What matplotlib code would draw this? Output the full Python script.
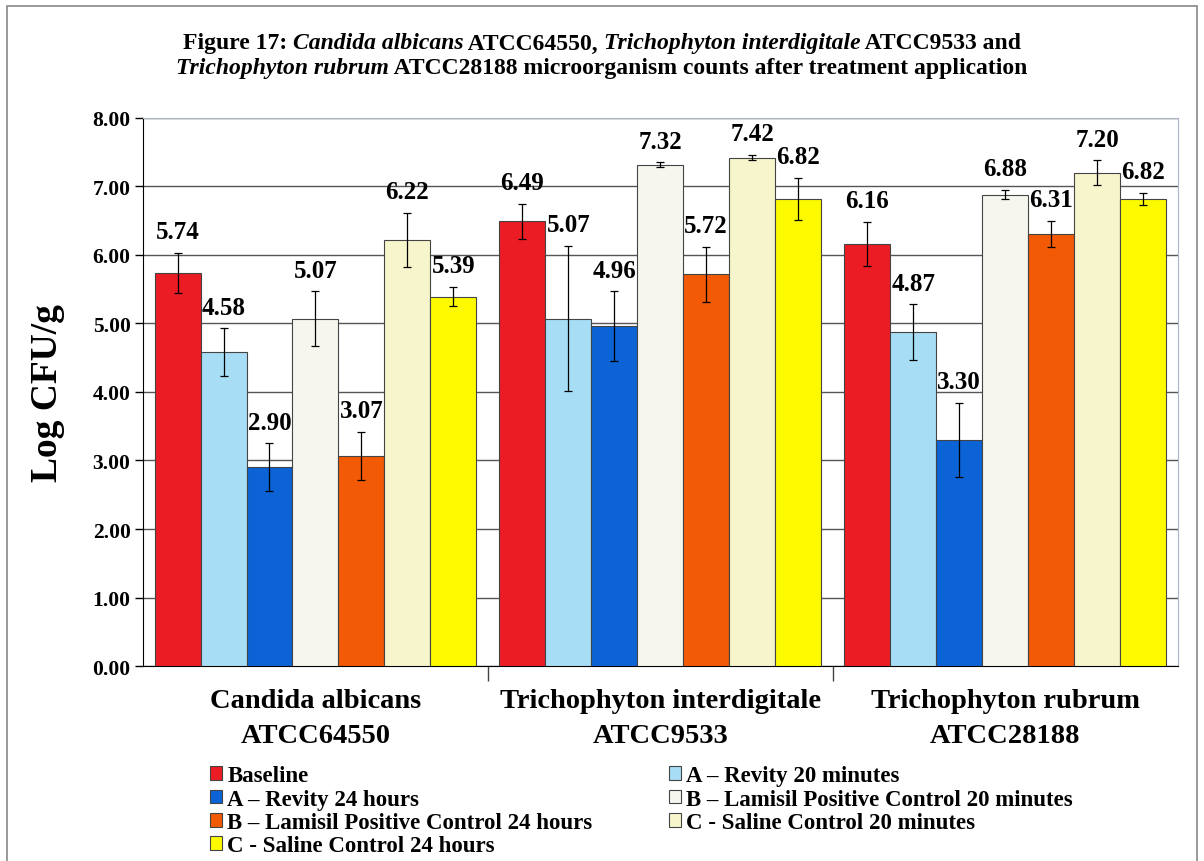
import matplotlib
matplotlib.use("Agg")
import matplotlib.pyplot as plt
from matplotlib.patches import Patch, Rectangle
import numpy as np

plt.rcParams['font.family'] = ['Liberation Serif', 'DejaVu Serif']
plt.rcParams['font.weight'] = 'bold'

grupos = ['Candida albicans\nATCC64550', 'Trichophyton interdigitale\nATCC9533',
          'Trichophyton rubrum\nATCC28188']

series = ['Baseline', 'A \u2013 Revity 20 minutes', 'A \u2013 Revity 24 hours',
          'B \u2013 Lamisil Positive Control 20 minutes',
          'B \u2013 Lamisil Positive Control 24 hours',
          'C - Saline Control 20 minutes', 'C - Saline Control 24 hours']

cores = ['#ec1c24', '#a8def5', '#0b63d6', '#f7f6ee', '#f25a05', '#f7f5cc', '#fdfa00']

# valores (log CFU/g) por serie, um por grupo
baseline = [5.74, 6.49, 6.16]
a_20min = [4.58, 5.07, 4.87]
a_24h = [2.90, 4.96, 3.30]
b_20min = [5.07, 7.32, 6.88]
b_24h = [3.07, 5.72, 6.31]
c_20min = [6.22, 7.42, 7.20]
c_24h = [5.39, 6.82, 6.82]

# desvios (barras de erro)
err_baseline = [0.29, 0.26, 0.32]
err_a_20min = [0.35, 1.06, 0.41]
err_a_24h = [0.35, 0.51, 0.54]
err_b_20min = [0.40, 0.03, 0.07]
err_b_24h = [0.35, 0.40, 0.19]
err_c_20min = [0.39, 0.04, 0.18]
err_c_24h = [0.14, 0.31, 0.09]

valores = [baseline, a_20min, a_24h, b_20min, b_24h, c_20min, c_24h]
erros = [err_baseline, err_a_20min, err_a_24h, err_b_20min, err_b_24h,
         err_c_20min, err_c_24h]

# titulo em pedacos (texto, italico?)
titulo_l1 = [('Figure 17: ', False), ('Candida albicans', True), (' ATCC64550, ', False),
             ('Trichophyton interdigitale', True), (' ATCC9533 and', False)]
titulo_l2 = [('Trichophyton rubrum', True),
             (' ATCC28188 microorganism counts after treatment application', False)]

fig = plt.figure(figsize=(12.04, 8.62), dpi=100)
ax = fig.add_axes([0.1188, 0.2262, 0.8592, 0.6358])

x = np.arange(len(grupos))
largura = 0.1333

for i in range(len(series)):
    pos = x + (i - 3) * largura
    ax.bar(pos, valores[i], largura, color=cores[i], edgecolor='#444444',
           linewidth=0.8, zorder=3)
    ax.errorbar(pos, valores[i], yerr=erros[i], fmt='none', ecolor='black',
                elinewidth=0.9, capsize=3, capthick=0.9, zorder=4)
    for p, v, e in zip(pos, valores[i], erros[i]):
        ax.annotate(f'{v:.2f}', xy=(p, v + e), xytext=(0, 7),
                    textcoords='offset points', ha='center', va='bottom',
                    fontsize=18, fontweight='bold', zorder=5)

ax.set_xlim(-0.5, 2.5)
ax.set_ylim(0, 8)
ax.set_yticks(np.arange(0, 9, 1))
ax.set_yticklabels([f'{t:.2f}' for t in range(9)], fontsize=15.5, fontweight='bold')
ax.yaxis.grid(True, color='#555555', linewidth=1.0, zorder=0)
ax.set_axisbelow(True)

ax.set_xticks([0.5, 1.5])
ax.set_xticklabels([])
ax.tick_params(axis='x', length=11, width=1, color='#444444')
ax.tick_params(axis='y', length=6, width=1, color='black', pad=3)
for i, g in enumerate(grupos):
    ax.text(i, -0.32, g, ha='center', va='top', fontsize=20.5, fontweight='bold',
            linespacing=1.55, transform=ax.transData)

ax.set_ylabel('Log CFU/g', fontsize=27, fontweight='bold', labelpad=20)

ax.spines['left'].set_color('black')
ax.spines['bottom'].set_color('black')
ax.spines['top'].set_color('#a9b4c4')
ax.spines['right'].set_color('#a9b4c4')

# titulo: pedacos lado a lado, centrados
renderer = fig.canvas.get_renderer()
for linha, y_lin in [(titulo_l1, 0.949), (titulo_l2, 0.921)]:
    textos = []
    for txt, ital in linha:
        t = fig.text(0, y_lin, txt, fontsize=17, fontweight='bold',
                     fontstyle='italic' if ital else 'normal', va='center', ha='left')
        textos.append(t)
    larguras = [t.get_window_extent(renderer).width / fig.bbox.width for t in textos]
    x0 = 0.5 - sum(larguras) / 2
    for t, w in zip(textos, larguras):
        t.set_x(x0)
        x0 += w

ordem = [0, 2, 4, 6, 1, 3, 5]
handles = [Patch(facecolor=cores[k], edgecolor='#444444', linewidth=0.8) for k in ordem]
rotulos = [series[k] for k in ordem]
leg = fig.legend(handles, rotulos, loc='upper left', bbox_to_anchor=(0.1745, 0.111),
                 ncol=2, frameon=False, fontsize=16.5, handlelength=0.5,
                 handleheight=0.55, handletextpad=0.25, labelspacing=0.1,
                 columnspacing=3.35, borderaxespad=0, borderpad=0)
for t in leg.get_texts():
    t.set_fontweight('bold')

fig.patches.append(Rectangle((0.006, -0.01), 0.988, 1.002, transform=fig.transFigure,
                             fill=False, edgecolor='#888888', linewidth=1.2))

fig.savefig('out.png', dpi=100)
